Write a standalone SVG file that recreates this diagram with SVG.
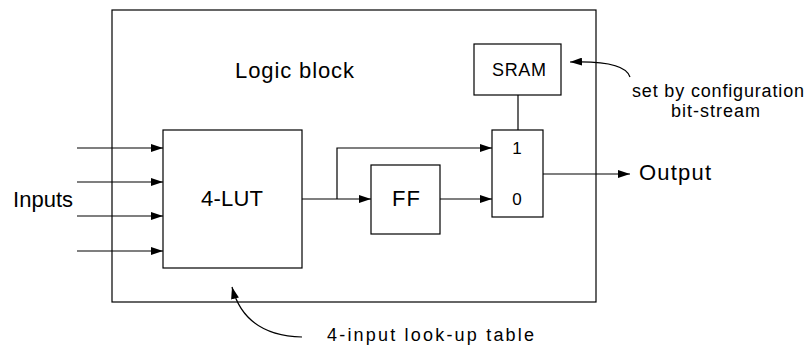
<svg xmlns="http://www.w3.org/2000/svg" width="806" height="347" viewBox="0 0 806 347">
<style>
.box{fill:#fff;stroke:#000;stroke-width:1.2}
.ln{fill:none;stroke:#000;stroke-width:1.2}
text{font-family:"Liberation Sans",Arial,sans-serif;fill:#000}
.big{font-size:22px}
.sm{font-size:18px}
</style>
<defs>
<marker id="ah" markerWidth="12" markerHeight="8" refX="12" refY="4" orient="auto" markerUnits="userSpaceOnUse">
<path d="M0,0 L12,4 L0,8 z" fill="#000"/>
</marker>
</defs>
<rect width="806" height="347" fill="#fff"/>
<g id="logic-block">
<rect class="box" x="112" y="10" width="484" height="292"/>
<text class="big" x="235" y="78" textLength="119" lengthAdjust="spacing">Logic block</text>
</g>
<g id="lut">
<rect class="box" x="163" y="130" width="139" height="138"/>
<text class="big" x="201" y="206" textLength="62" lengthAdjust="spacing">4-LUT</text>
</g>
<g id="ff">
<rect class="box" x="371" y="165" width="69" height="69"/>
<text class="big" x="392" y="206" textLength="28" lengthAdjust="spacing">FF</text>
</g>
<g id="mux">
<rect class="box" x="492" y="130" width="51" height="87"/>
<text x="517" y="154" font-size="17" text-anchor="middle">1</text>
<text x="517" y="205" font-size="17" text-anchor="middle">0</text>
</g>
<g id="sram">
<rect class="box" x="474" y="44" width="87" height="51"/>
<text class="sm" x="492" y="76" textLength="54" lengthAdjust="spacing">SRAM</text>
</g>
<g id="labels">
<text class="big" x="13" y="207" textLength="60" lengthAdjust="spacing">Inputs</text>
<text class="big" x="639" y="180" textLength="72" lengthAdjust="spacing">Output</text>
<text class="sm" x="632" y="97" textLength="172" lengthAdjust="spacing">set by configuration</text>
<text class="sm" x="671" y="117" textLength="89" lengthAdjust="spacing">bit-stream</text>
<text class="sm" x="327" y="341" textLength="207" lengthAdjust="spacing">4-input look-up table</text>
</g>
<g id="connectors">
<line class="ln" x1="77" y1="148" x2="163" y2="148" marker-end="url(#ah)"/>
<line class="ln" x1="77" y1="182" x2="163" y2="182" marker-end="url(#ah)"/>
<line class="ln" x1="77" y1="216" x2="163" y2="216" marker-end="url(#ah)"/>
<line class="ln" x1="77" y1="251" x2="163" y2="251" marker-end="url(#ah)"/>
<line class="ln" x1="302" y1="199" x2="371" y2="199" marker-end="url(#ah)"/>
<polyline class="ln" points="337,199 337,148 492,148" marker-end="url(#ah)"/>
<line class="ln" x1="440" y1="199" x2="492" y2="199" marker-end="url(#ah)"/>
<line class="ln" x1="518" y1="95" x2="518" y2="130"/>
<line class="ln" x1="543" y1="174" x2="630" y2="174" marker-end="url(#ah)"/>
<path class="ln" d="M630,77 C626,64 600,61 570,62" marker-end="url(#ah)"/>
<path class="ln" d="M302,337 C262,336 240,318 232,287" marker-end="url(#ah)"/>
</g>
</svg>
